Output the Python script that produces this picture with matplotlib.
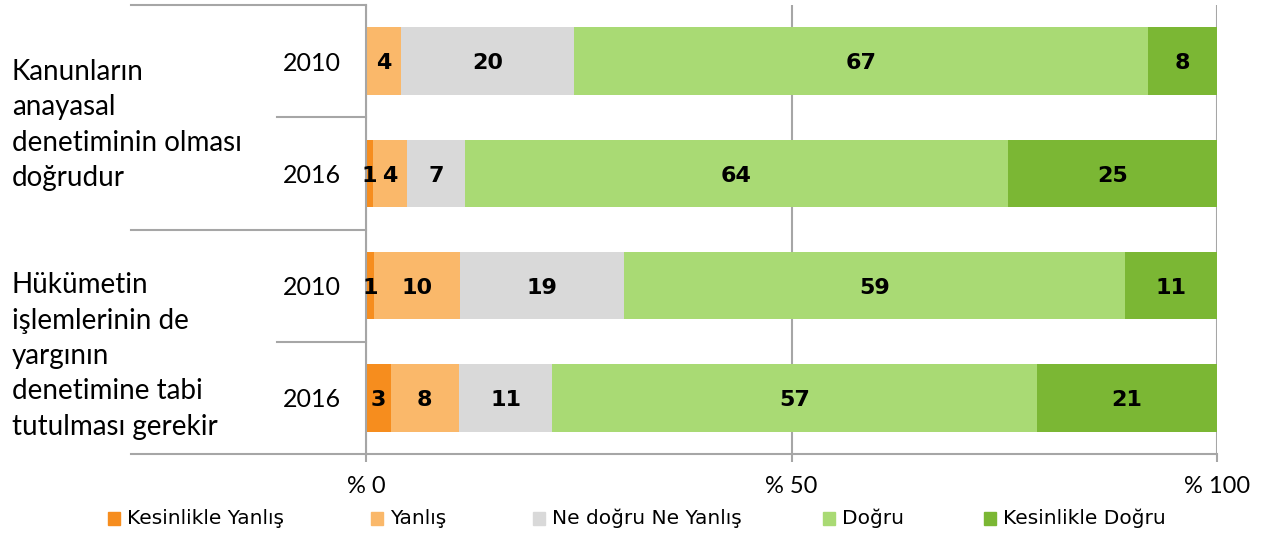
import matplotlib.pyplot as plt
from matplotlib.patches import Rectangle
import numpy as np

# ===================================================================
# DATA
# ===================================================================
years = ["2010", "2016", "2010", "2016"]
groups = ["Kanunların\nanayasal\ndenetiminin olması\ndoğrudur",
          "Hükümetin\nişlemlerinin de\nyargının\ndenetimine tabi\ntutulması gerekir"]
categories = ["Kesinlikle Yanlış", "Yanlış", "Ne doğru Ne Yanlış", "Doğru", "Kesinlikle Doğru"]
colors = ["#F68D1E", "#FAB86A", "#D9D9D9", "#A9DA74", "#7BB734"]

kesinlikle_yanlis = [0.0, 0.8, 0.9, 2.9]
yanlis = [4.1, 4.0, 10.2, 8.0]
ne_dogru_ne_yanlis = [20.4, 6.8, 19.2, 11.0]
dogru = [67.4, 63.8, 58.9, 56.9]
kesinlikle_dogru = [8.1, 24.6, 10.8, 21.2]

series = [kesinlikle_yanlis, yanlis, ne_dogru_ne_yanlis, dogru, kesinlikle_dogru]
xticks = [0, 50, 100]
xticklabels = ["% 0", "% 50", "% 100"]

# ===================================================================
# FIGURE
# ===================================================================
W, H = 1269, 533
fig = plt.figure(figsize=(W / 100, H / 100), dpi=100)
ax = fig.add_axes([366 / W, 1 - 454 / H, (1217 - 366) / W, (454 - 5) / H])

grid_col = "#A6A6A6"
pos = np.arange(len(years))
left = np.zeros(len(years))
for vals, col in zip(series, colors):
    vals = np.array(vals)
    ax.barh(pos, vals, left=left, height=0.6, color=col, edgecolor="none", zorder=2)
    for y, v, l in zip(pos, vals, left):
        if v > 0:
            ax.text(l + v / 2, y + 0.02, f"{v:.0f}", ha="center", va="center",
                    fontsize=16, fontweight="bold", family="DejaVu Sans",
                    color="black", zorder=3)
    left += vals

ax.set_xlim(0, 100)
ax.set_ylim(len(years) - 0.5, -0.5)

# axes and grid
for s in ["top", "right"]:
    ax.spines[s].set_visible(False)
for s in ["left", "bottom"]:
    ax.spines[s].set_color(grid_col)
    ax.spines[s].set_linewidth(1.5)
ax.set_axisbelow(True)
ax.xaxis.grid(True, color=grid_col, linewidth=1.5)

ax.set_xticks(xticks)
ax.set_xticklabels(xticklabels, family="Lato", fontsize=17)
ax.tick_params(axis="x", length=6, width=1.5, color=grid_col, pad=10)

ax.set_yticks(pos)
ax.set_yticklabels(years, family="Lato", fontsize=18)
ax.tick_params(axis="y", length=0, pad=18)

# multi-level category separators on the left
for yy, x0 in [(1.0, -0.276), (0.75, -0.105), (0.5, -0.276), (0.25, -0.105), (0.0, -0.276)]:
    ax.plot([x0, 0], [yy, yy], transform=ax.transAxes, color=grid_col,
            linewidth=1.5, clip_on=False, zorder=1)

# group labels
fig.text(12 / W, 1 - 125 / H, groups[0], ha="left", va="center",
         family="Lato", fontsize=20, linespacing=1.45)
fig.text(12 / W, 1 - 356 / H, groups[1], ha="left", va="center",
         family="Lato", fontsize=20, linespacing=1.45)

# legend, drawn by hand to keep Excel's spacing
legend_x = [108, 371, 533, 823, 984]
for x, lab, col in zip(legend_x, categories, colors):
    fig.add_artist(Rectangle((x / W, 1 - 525 / H), 12 / W, 13 / H,
                             transform=fig.transFigure, color=col))
    fig.text((x + 19) / W, 1 - 518.5 / H, lab, ha="left", va="center",
             family="DejaVu Sans", fontsize=14.5)

plt.savefig("out.png", dpi=100)
